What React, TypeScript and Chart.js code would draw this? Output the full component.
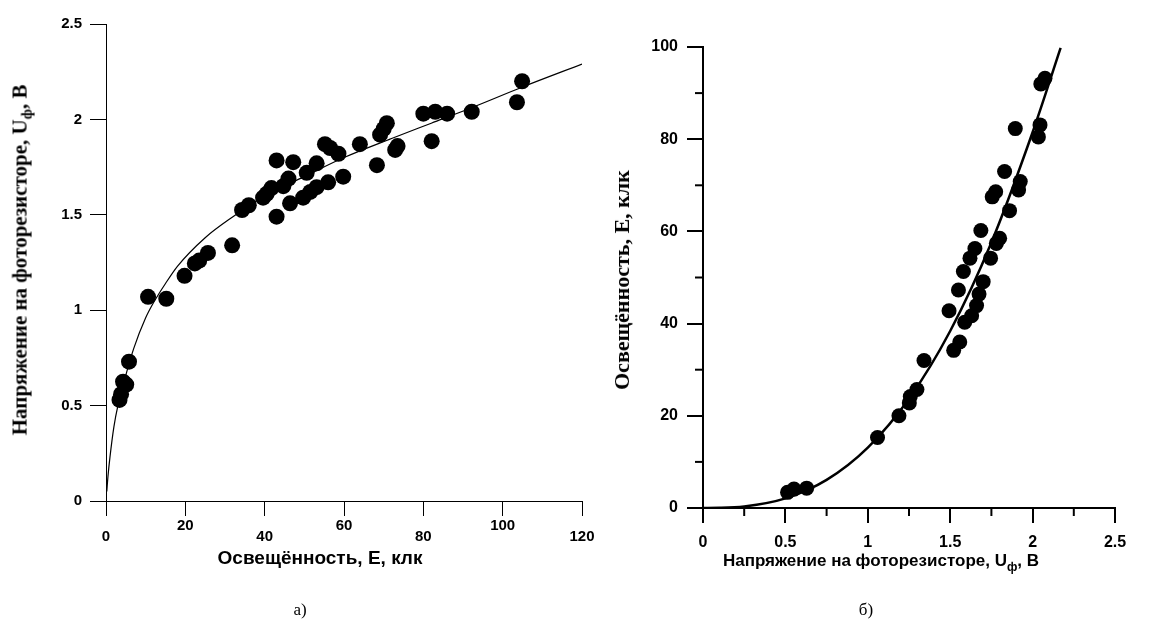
import React, { useEffect, useRef } from 'react';
import { Chart, registerables } from 'chart.js';
Chart.register(...registerables);

// ---------- Left chart (а): U = f(E) ----------
const leftE = [3.4, 3.8, 4.3, 5.1, 5.8, 10.6, 15.2, 19.8, 22.4, 23.5, 25.7, 31.8, 34.3, 36, 39.6, 40.5, 41.7, 43, 43, 44.7, 46, 47.2, 46.4, 49.7, 50.6, 51.5, 53.1, 53.1, 55.2, 56, 56.5, 58.6, 59.8, 64, 68.3, 69.1, 70.8, 70, 72.9, 73.5, 80, 83, 86, 82.1, 92.2, 104.9, 103.6];
const leftU = [0.53, 0.56, 0.625, 0.61, 0.73, 1.07, 1.06, 1.18, 1.245, 1.26, 1.30, 1.34, 1.525, 1.55, 1.59, 1.61, 1.64, 1.785, 1.49, 1.65, 1.69, 1.776, 1.56, 1.59, 1.72, 1.62, 1.645, 1.77, 1.87, 1.67, 1.85, 1.82, 1.70, 1.87, 1.76, 1.92, 1.98, 1.95, 1.84, 1.86, 2.03, 2.04, 2.03, 1.886, 2.04, 2.20, 2.09];
const leftCurveE = [0.2, 0.5, 1, 2, 3, 5, 7, 10, 12, 15, 18, 25, 32, 40, 50, 60, 72, 82, 92, 105, 120];
const leftCurveU = [0.05, 0.13, 0.23, 0.39, 0.5, 0.66, 0.8, 0.96, 1.04, 1.14, 1.23, 1.38, 1.49, 1.6, 1.7, 1.8, 1.9, 1.98, 2.06, 2.17, 2.29];
const leftXTicks = [0, 20, 40, 60, 80, 100, 120];
const leftYTicks = [0, 0.5, 1, 1.5, 2, 2.5];

// ---------- Right chart (б): E = f(U) ----------
const rightU = [0.513, 0.552, 0.629, 1.059, 1.189, 1.252, 1.258, 1.298, 1.341, 1.493, 1.521, 1.558, 1.588, 1.63, 1.66, 1.675, 1.55, 1.70, 1.58, 1.62, 1.745, 1.65, 1.78, 1.80, 1.686, 1.86, 1.755, 1.776, 1.915, 1.925, 1.83, 1.895, 2.035, 2.045, 2.05, 2.075];
const rightE = [3.4, 4.1, 4.3, 15.3, 20.0, 22.8, 24.2, 25.7, 32.0, 42.8, 34.2, 36.0, 40.3, 41.7, 43.9, 46.4, 47.3, 49.1, 51.3, 54.2, 54.2, 56.3, 57.4, 58.5, 60.2, 64.5, 67.5, 68.6, 69, 70.8, 73, 82.3, 80.5, 83.1, 92.0, 93.2];
const rightCurveU = [0, 0.1, 0.25, 0.5, 0.75, 1, 1.25, 1.5, 1.75, 2, 2.17];
const rightCurveE = [0, 0.03, 0.33, 2.1, 6.1, 13.1, 23.7, 38.4, 57.6, 81.5, 99.8];
const rightXTicks = [0, 0.5, 1, 1.5, 2, 2.5];
const rightXMinor = [0.25, 0.75, 1.25, 1.75, 2.25];
const rightYTicks = [0, 20, 40, 60, 80, 100];
const rightYMinor = [10, 30, 50, 70, 90];

const SANS = "'Liberation Sans', Arial, sans-serif";
const SERIF = "'Liberation Serif', 'Times New Roman', serif";

const minorTicksPlugin = {
  id: 'minorTicks',
  afterDraw(chart: any) {
    const { ctx, scales } = chart;
    const x = scales.x;
    const y = scales.y;
    ctx.save();
    ctx.strokeStyle = '#000';
    ctx.lineWidth = 2;
    rightXMinor.forEach((v) => {
      const px = x.getPixelForValue(v);
      ctx.beginPath();
      ctx.moveTo(px, y.bottom);
      ctx.lineTo(px, y.bottom + 8);
      ctx.stroke();
    });
    rightYMinor.forEach((v) => {
      const py = y.getPixelForValue(v);
      ctx.beginPath();
      ctx.moveTo(x.left, py);
      ctx.lineTo(x.left - 8, py);
      ctx.stroke();
    });
    ctx.restore();
  },
};

export default function App() {
  const leftRef = useRef<HTMLCanvasElement>(null);
  const rightRef = useRef<HTMLCanvasElement>(null);

  useEffect(() => {
    const left = new Chart(leftRef.current as HTMLCanvasElement, {
      type: 'scatter',
      data: {
        datasets: [
          {
            data: leftE.map((x, i) => ({ x, y: leftU[i] })),
            pointRadius: 8,
            pointHoverRadius: 8,
            backgroundColor: '#000',
            borderWidth: 0,
          },
          {
            data: leftCurveE.map((x, i) => ({ x, y: leftCurveU[i] })),
            showLine: true,
            borderColor: '#000',
            borderWidth: 1.2,
            pointRadius: 0,
            cubicInterpolationMode: 'monotone',
            fill: false,
          } as any,
        ],
      },
      options: {
        responsive: false,
        animation: false,
        events: [],
        plugins: { legend: { display: false }, tooltip: { enabled: false } },
        layout: { padding: { top: 24, right: 18, left: 0, bottom: 0 } },
        scales: {
          x: {
            type: 'linear',
            min: 0,
            max: 120,
            afterBuildTicks: (s: any) => {
              s.ticks = leftXTicks.map((v) => ({ value: v }));
            },
            afterFit: (s: any) => {
              s.height = 131;
            },
            ticks: {
              autoSkip: false,
              maxRotation: 0,
              padding: 4,
              color: '#000',
              font: { family: SANS, size: 15, weight: 'bold', lineHeight: '11px' } as any,
              callback: (v: any, i: number) => (i % 2 === 0 ? ['', String(v)] : String(v)),
            },
            grid: { drawOnChartArea: false, drawTicks: true, tickLength: 15, color: '#000', tickColor: '#000', lineWidth: 1 },
            border: { display: true, color: '#000', width: 1 },
          },
          y: {
            type: 'linear',
            min: 0,
            max: 2.5,
            afterBuildTicks: (s: any) => {
              s.ticks = leftYTicks.map((v) => ({ value: v }));
            },
            afterFit: (s: any) => {
              s.width = 106;
            },
            ticks: {
              padding: 8,
              color: '#000',
              font: { family: SANS, size: 15, weight: 'bold' },
              callback: (v: any) => String(v),
            },
            grid: { drawOnChartArea: false, drawTicks: true, tickLength: 16, color: '#000', tickColor: '#000', lineWidth: 1 },
            border: { display: true, color: '#000', width: 1 },
          },
        },
      },
    });

    const right = new Chart(rightRef.current as HTMLCanvasElement, {
      type: 'scatter',
      data: {
        datasets: [
          {
            data: rightU.map((x, i) => ({ x, y: rightE[i] })),
            pointRadius: 7.5,
            pointHoverRadius: 7.5,
            backgroundColor: '#000',
            borderWidth: 0,
          },
          {
            data: rightCurveU.map((x, i) => ({ x, y: rightCurveE[i] })),
            showLine: true,
            borderColor: '#000',
            borderWidth: 2.5,
            pointRadius: 0,
            cubicInterpolationMode: 'monotone',
            fill: false,
          } as any,
        ],
      },
      options: {
        responsive: false,
        animation: false,
        events: [],
        plugins: { legend: { display: false }, tooltip: { enabled: false } },
        layout: { padding: { top: 47, right: 61, left: 0, bottom: 0 } },
        scales: {
          x: {
            type: 'linear',
            min: 0,
            max: 2.5,
            afterBuildTicks: (s: any) => {
              s.ticks = rightXTicks.map((v) => ({ value: v }));
            },
            afterFit: (s: any) => {
              s.height = 124;
            },
            ticks: {
              autoSkip: false,
              maxRotation: 0,
              padding: 10,
              color: '#000',
              font: { family: SANS, size: 16, weight: 'bold' },
              callback: (v: any) => String(v),
            },
            grid: { drawOnChartArea: false, drawTicks: true, tickLength: 15, color: '#000', tickColor: '#000', lineWidth: 2, tickWidth: 2 },
            border: { display: true, color: '#000', width: 2 },
          },
          y: {
            type: 'linear',
            min: 0,
            max: 100,
            afterBuildTicks: (s: any) => {
              s.ticks = rightYTicks.map((v) => ({ value: v }));
            },
            afterFit: (s: any) => {
              s.width = 103;
            },
            ticks: {
              padding: 9,
              color: '#000',
              font: { family: SANS, size: 16, weight: 'bold' },
              callback: (v: any) => String(v),
            },
            grid: { drawOnChartArea: false, drawTicks: true, tickLength: 16, color: '#000', tickColor: '#000', lineWidth: 2, tickWidth: 2 },
            border: { display: true, color: '#000', width: 2 },
          },
        },
      },
      plugins: [minorTicksPlugin],
    });

    return () => {
      left.destroy();
      right.destroy();
    };
  }, []);

  const abs = (extra: React.CSSProperties): React.CSSProperties => ({
    position: 'absolute',
    whiteSpace: 'nowrap',
    color: '#000',
    lineHeight: 1,
    ...extra,
  });

  return (
    <div style={{ position: 'absolute', left: 0, top: 0, width: 1176, height: 632, background: '#fff', overflow: 'hidden' }}>
      <canvas ref={leftRef} width={600} height={632} style={{ position: 'absolute', left: 0, top: 0, width: 600, height: 632 }} />
      <canvas ref={rightRef} width={576} height={632} style={{ position: 'absolute', left: 600, top: 0, width: 576, height: 632 }} />

      <div style={abs({ left: 22, top: 260, transform: 'translate(-50%, -50%) rotate(-90deg)', fontFamily: SERIF, fontWeight: 'bold', fontSize: 21 })}>
        Напряжение на фоторезисторе, U<sub style={{ fontSize: '0.7em' }}>ф</sub>, В
      </div>
      <div style={abs({ left: 320, top: 557, transform: 'translate(-50%, -50%)', fontFamily: SANS, fontWeight: 'bold', fontSize: 19 })}>
        Освещённость, E, клк
      </div>
      <div style={abs({ left: 622, top: 280, transform: 'translate(-50%, -50%) rotate(-90deg)', fontFamily: SERIF, fontWeight: 'bold', fontSize: 22 })}>
        Освещённость, E, клк
      </div>
      <div style={abs({ left: 881, top: 563, transform: 'translate(-50%, -50%)', fontFamily: SANS, fontWeight: 'bold', fontSize: 17 })}>
        Напряжение на фоторезисторе, U<sub style={{ fontSize: '0.7em' }}>ф</sub>, В
      </div>
      <div style={abs({ left: 300, top: 609, transform: 'translate(-50%, -50%)', fontFamily: SERIF, fontSize: 17 })}>а)</div>
      <div style={abs({ left: 866, top: 609, transform: 'translate(-50%, -50%)', fontFamily: SERIF, fontSize: 17 })}>б)</div>
    </div>
  );
}
